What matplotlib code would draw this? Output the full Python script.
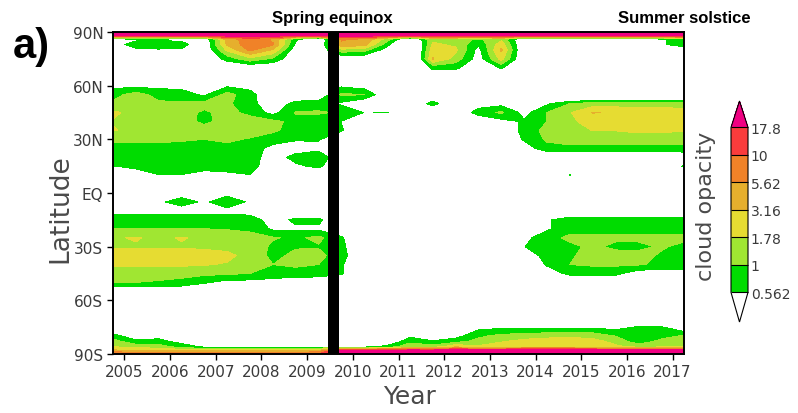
import numpy as np
import matplotlib
matplotlib.use("Agg")
import matplotlib.pyplot as plt

plt.rcParams['font.family'] = ['DejaVu Sans']

# время (середина полугодий) и широты сетки
years = [2004.75, 2005.25, 2005.75, 2006.25, 2006.75, 2007.25, 2007.75,
         2008.25, 2008.75, 2009.25, 2009.75, 2010.25, 2010.75, 2011.25,
         2011.75, 2012.25, 2012.75, 2013.25, 2013.75, 2014.25, 2014.75,
         2015.25, 2015.75, 2016.25, 2016.75, 2017.25]
lats = [90, 88, 86, 83, 80, 75, 70, 65, 60, 55, 50, 45, 40, 35, 30, 25, 20,
        15, 10, 5, 0, -5, -10, -15, -20, -25, -30, -35, -40, -45, -50, -55,
        -60, -65, -70, -75, -80, -83, -86, -88, -90]

# cloud opacity, одна строка на широту (сверху вниз)
opacity = [
    [30, 30, 30, 30, 30, 30, 30, 30, 30, 30, 30, 30, 30, 30, 30, 30, 30, 30, 30, 30, 30, 30, 30, 30, 30, 30],
    [22, 22, 22, 22, 22, 22, 22, 22, 22, 22, 22, 22, 22, 22, 22, 22, 22, 22, 22, 22, 22, 22, 22, 22, 22, 22],
    [0.45, 0.5, 0.5, 0.45, 0.3, 4, 8, 5, 0.65, 0.2, 6, 5, 1.3, 0.2, 1.5, 1.3, 0.9, 1.5, 0.25, 0.3, 0.3, 0.3, 0.3, 0.3, 0.5, 0.85],
    [0.45, 0.7, 0.85, 0.75, 0.3, 3.5, 8, 6, 0.5, 0.25, 5, 4, 0.7, 0.1, 2.0, 1.6, 0.6, 2.5, 0.25, 0.3, 0.3, 0.3, 0.3, 0.3, 0.5, 0.85],
    [0.3, 0.5, 0.52, 0.5, 0.3, 2.0, 6.5, 3.0, 0.35, 0.3, 1.5, 1.3, 0.4, 0.1, 2.5, 2.0, 0.45, 3.5, 0.25, 0.3, 0.3, 0.3, 0.3, 0.3, 0.3, 0.3],
    [0.3, 0.3, 0.3, 0.3, 0.3, 0.7, 1.5, 0.9, 0.3, 0.3, 0.3, 0.3, 0.3, 0.1, 3.3, 1.4, 0.4, 2.2, 0.25, 0.3, 0.3, 0.3, 0.3, 0.3, 0.3, 0.3],
    [0.3, 0.3, 0.3, 0.3, 0.3, 0.3, 0.3, 0.3, 0.3, 0.3, 0.3, 0.3, 0.3, 0.15, 0.66, 0.65, 0.3, 0.6, 0.3, 0.3, 0.3, 0.3, 0.3, 0.3, 0.3, 0.3],
    [0.3, 0.3, 0.3, 0.3, 0.3, 0.3, 0.3, 0.3, 0.3, 0.3, 0.3, 0.3, 0.3, 0.3, 0.3, 0.3, 0.3, 0.3, 0.3, 0.3, 0.3, 0.3, 0.3, 0.3, 0.3, 0.3],
    [0.47, 0.47, 0.47, 0.45, 0.3, 0.5, 0.45, 0.3, 0.3, 0.3, 0.5, 0.4, 0.3, 0.3, 0.3, 0.3, 0.3, 0.3, 0.3, 0.3, 0.3, 0.3, 0.3, 0.3, 0.3, 0.3],
    [0.8, 1.3, 0.8, 0.75, 0.5, 1.25, 0.7, 0.3, 0.3, 0.3, 1.1, 1.0, 0.3, 0.3, 0.3, 0.3, 0.3, 0.3, 0.3, 0.2, 0.1, 0.1, 0.1, 0.1, 0.1, 0.1],
    [1.12, 1.12, 1.1, 1.1, 1.2, 1.1, 0.7, 0.35, 0.7, 0.8, 0.5, 0.3, 0.3, 0.3, 0.7, 0.3, 0.4, 0.45, 0.3, 0.5, 1.0, 1.3, 1.3, 1.3, 1.3, 1.3],
    [1.95, 1.5, 1.45, 1.2, 0.92, 1.2, 0.85, 0.45, 1.05, 1.05, 0.95, 0.55, 0.58, 0.3, 0.3, 0.3, 0.75, 1.1, 0.45, 1.0, 1.7, 3.25, 3.0, 2.6, 2.5, 2.4],
    [1.72, 1.5, 1.5, 1.35, 0.85, 1.3, 1.3, 1.15, 0.85, 0.8, 0.55, 0.3, 0.3, 0.3, 0.3, 0.3, 0.3, 0.45, 0.6, 1.0, 1.6, 2.2, 2.3, 2.4, 2.3, 2.2],
    [1.85, 1.55, 1.5, 1.4, 1.35, 1.3, 1.3, 1.1, 0.8, 0.8, 0.6, 0.3, 0.3, 0.3, 0.3, 0.3, 0.3, 0.3, 0.7, 1.2, 1.5, 1.8, 1.8, 1.9, 1.9, 1.85],
    [1.1, 1.1, 1.1, 1.05, 1.0, 1.1, 0.95, 0.75, 0.6, 0.6, 0.3, 0.3, 0.3, 0.3, 0.3, 0.3, 0.3, 0.3, 0.6, 1.1, 1.3, 1.4, 1.4, 1.5, 1.4, 1.4],
    [0.85, 0.85, 0.85, 0.85, 0.85, 0.85, 0.8, 0.45, 0.4, 0.45, 0.3, 0.3, 0.3, 0.3, 0.3, 0.3, 0.3, 0.3, 0.4, 0.8, 0.85, 0.8, 0.75, 0.75, 0.75, 0.8],
    [0.85, 0.8, 0.85, 0.85, 0.8, 0.8, 0.75, 0.4, 0.7, 0.9, 0.3, 0.3, 0.3, 0.3, 0.3, 0.3, 0.3, 0.3, 0.3, 0.3, 0.3, 0.3, 0.3, 0.3, 0.3, 0.35],
    [0.55, 0.65, 0.8, 0.8, 0.7, 0.7, 0.75, 0.35, 0.5, 0.65, 0.3, 0.3, 0.3, 0.3, 0.3, 0.3, 0.3, 0.3, 0.3, 0.3, 0.3, 0.3, 0.3, 0.3, 0.3, 0.6],
    [0.3, 0.4, 0.55, 0.55, 0.45, 0.5, 0.55, 0.3, 0.3, 0.3, 0.3, 0.3, 0.3, 0.3, 0.3, 0.3, 0.3, 0.3, 0.3, 0.3, 0.57, 0.3, 0.3, 0.3, 0.3, 0.3],
    [0.3, 0.3, 0.3, 0.3, 0.3, 0.3, 0.3, 0.3, 0.3, 0.3, 0.3, 0.3, 0.3, 0.3, 0.3, 0.3, 0.3, 0.3, 0.3, 0.3, 0.3, 0.3, 0.3, 0.3, 0.3, 0.3],
    [0.3, 0.3, 0.3, 0.4, 0.3, 0.45, 0.3, 0.3, 0.3, 0.3, 0.3, 0.3, 0.3, 0.3, 0.3, 0.3, 0.3, 0.3, 0.3, 0.3, 0.3, 0.3, 0.3, 0.3, 0.3, 0.3],
    [0.3, 0.3, 0.5, 0.75, 0.5, 0.85, 0.5, 0.3, 0.3, 0.3, 0.3, 0.3, 0.3, 0.3, 0.3, 0.3, 0.3, 0.3, 0.3, 0.3, 0.3, 0.3, 0.3, 0.3, 0.3, 0.3],
    [0.4, 0.4, 0.4, 0.4, 0.4, 0.45, 0.4, 0.3, 0.3, 0.3, 0.3, 0.3, 0.3, 0.3, 0.3, 0.3, 0.3, 0.3, 0.2, 0.2, 0.2, 0.2, 0.2, 0.2, 0.2, 0.2],
    [0.85, 0.85, 0.85, 0.85, 0.85, 0.85, 0.8, 0.4, 0.65, 0.65, 0.3, 0.3, 0.3, 0.3, 0.3, 0.3, 0.3, 0.3, 0.3, 0.5, 0.85, 0.85, 0.85, 0.85, 0.85, 0.85],
    [1.0, 1.0, 1.0, 1.0, 1.0, 0.95, 0.9, 0.5, 0.5, 0.5, 0.35, 0.3, 0.3, 0.3, 0.3, 0.3, 0.3, 0.3, 0.35, 0.5, 0.85, 0.85, 0.85, 0.85, 0.85, 0.85],
    [1.7, 1.85, 1.6, 1.85, 1.6, 1.5, 1.2, 1.05, 0.9, 1.15, 0.6, 0.3, 0.3, 0.3, 0.3, 0.3, 0.3, 0.3, 0.45, 0.85, 1.1, 1.1, 1.1, 1.1, 1.1, 1.1],
    [1.7, 1.7, 1.7, 1.7, 1.65, 1.55, 1.4, 0.9, 0.95, 0.95, 0.65, 0.3, 0.3, 0.3, 0.3, 0.3, 0.3, 0.3, 0.55, 0.85, 0.9, 1.1, 0.9, 0.9, 1.05, 0.9],
    [2.3, 2.3, 2.3, 2.2, 2.1, 2.0, 1.5, 0.85, 1.15, 1.2, 0.7, 0.3, 0.3, 0.3, 0.3, 0.3, 0.3, 0.3, 0.3, 0.8, 0.95, 1.15, 1.2, 1.15, 0.95, 0.85],
    [2.0, 2.0, 2.0, 1.95, 1.85, 1.7, 1.3, 1.0, 1.1, 1.0, 0.6, 0.3, 0.3, 0.3, 0.3, 0.3, 0.3, 0.3, 0.3, 0.6, 1.0, 1.1, 1.1, 1.05, 0.9, 0.9],
    [1.2, 1.2, 1.2, 1.2, 1.15, 1.1, 1.0, 0.85, 0.8, 0.75, 0.6, 0.3, 0.3, 0.3, 0.3, 0.3, 0.3, 0.3, 0.3, 0.4, 0.65, 0.65, 0.65, 0.4, 0.35, 0.35],
    [1.0, 1.0, 0.95, 0.85, 0.6, 0.45, 0.45, 0.4, 0.35, 0.35, 0.3, 0.3, 0.3, 0.3, 0.3, 0.3, 0.3, 0.3, 0.3, 0.3, 0.3, 0.3, 0.3, 0.3, 0.3, 0.3],
    [0.3, 0.3, 0.3, 0.3, 0.3, 0.3, 0.3, 0.3, 0.3, 0.3, 0.3, 0.3, 0.3, 0.3, 0.3, 0.3, 0.3, 0.3, 0.3, 0.3, 0.3, 0.3, 0.3, 0.3, 0.3, 0.3],
    [0.3, 0.3, 0.3, 0.3, 0.3, 0.3, 0.3, 0.3, 0.3, 0.3, 0.3, 0.3, 0.3, 0.3, 0.3, 0.3, 0.3, 0.3, 0.3, 0.3, 0.3, 0.3, 0.3, 0.3, 0.3, 0.3],
    [0.3, 0.3, 0.3, 0.3, 0.3, 0.3, 0.3, 0.3, 0.3, 0.3, 0.3, 0.3, 0.3, 0.3, 0.3, 0.3, 0.3, 0.3, 0.3, 0.3, 0.3, 0.3, 0.3, 0.3, 0.3, 0.3],
    [0.3, 0.3, 0.3, 0.3, 0.3, 0.3, 0.3, 0.3, 0.3, 0.3, 0.3, 0.3, 0.3, 0.3, 0.3, 0.3, 0.3, 0.3, 0.3, 0.3, 0.3, 0.3, 0.3, 0.3, 0.3, 0.3],
    [0.3, 0.3, 0.3, 0.3, 0.3, 0.3, 0.3, 0.3, 0.3, 0.3, 0.3, 0.3, 0.3, 0.3, 0.3, 0.3, 0.45, 0.5, 0.5, 0.5, 0.5, 0.5, 0.45, 0.6, 0.6, 0.3],
    [0.7, 0.4, 0.45, 0.3, 0.3, 0.3, 0.3, 0.3, 0.3, 0.3, 0.3, 0.3, 0.3, 0.5, 0.35, 0.45, 0.9, 1.2, 1.3, 1.5, 1.6, 1.5, 1.0, 0.55, 0.8, 1.1],
    [1.3, 0.65, 0.7, 0.45, 0.3, 0.3, 0.3, 0.3, 0.3, 0.3, 0.3, 0.3, 0.3, 0.85, 0.6, 0.8, 1.2, 1.7, 2.2, 2.4, 2.4, 2.2, 1.5, 0.7, 1.2, 1.3],
    [1.8, 1.5, 1.3, 0.8, 0.5, 0.5, 0.5, 0.5, 0.5, 0.5, 0.45, 0.45, 0.7, 1.5, 1.3, 3.0, 2.0, 2.4, 2.8, 2.8, 2.8, 2.6, 2.0, 1.5, 1.6, 1.6],
    [3.5, 3.0, 3.0, 2.5, 2.5, 2.5, 2.5, 2.5, 3.0, 3.5, 25, 25, 25, 25, 25, 25, 25, 25, 25, 25, 25, 25, 25, 25, 25, 25],
    [11, 11, 11, 11, 11, 11, 11, 11, 11, 11, 30, 30, 30, 30, 30, 30, 30, 30, 30, 30, 30, 30, 30, 30, 30, 30],
]

levels = [0.562, 1, 1.78, 3.16, 5.62, 10, 17.8]
level_labels = ["0.562", "1", "1.78", "3.16", "5.62", "10", "17.8"]
# белый снизу, маджента сверху (палитра как в GrADS)
colors = ["white", "#00dc00", "#a0e632", "#e6dc32", "#e6af2d",
          "#f08228", "#fa3c3c", "#f00082"]

year_ticks = [2005, 2006, 2007, 2008, 2009, 2010, 2011, 2012, 2013,
              2014, 2015, 2016, 2017]
lat_ticks = [-90, -60, -30, 0, 30, 60, 90]
lat_labels = ["90S", "60S", "30S", "EQ", "30N", "60N", "90N"]

equinox = (2009.46, 2009.70)   # чёрная полоса

W, H = 798, 414
fig = plt.figure(figsize=(W / 100, H / 100), dpi=100)
ax = fig.add_axes([113 / W, 1 - 355 / H, 571 / W, 322 / H])

z = np.log10(np.array(opacity))
cs = ax.contourf(years, lats, z, levels=np.log10(levels), colors=colors,
                 extend="both")
ax.axvspan(equinox[0], equinox[1], color="black", zorder=3, lw=0)

ax.set_xlim(2004.75, 2017.25)
ax.set_ylim(-90, 90)
ax.set_xticks(year_ticks)
ax.set_xticklabels([str(y) for y in year_ticks])
ax.set_yticks(lat_ticks)
ax.set_yticklabels(lat_labels)
ax.tick_params(direction="out", length=4, width=1, labelsize=11,
               labelcolor="#3a3a3a", pad=3)
for s in ax.spines.values():
    s.set_linewidth(1.4)
    s.set_zorder(4)

cax = fig.add_axes([731 / W, 1 - 323 / H, 17 / W, 221 / H])
cb = fig.colorbar(cs, cax=cax, extendfrac=(0.18, 0.16), drawedges=True)
cb.set_ticks(np.log10(levels))
cb.set_ticklabels(level_labels)
cb.ax.tick_params(length=0, labelsize=10, pad=2, labelcolor="#3a3a3a")
cb.outline.set_linewidth(0.8)
cb.dividers.set_linewidth(0.8)

fig.text(706 / W, 1 - 206 / H, "cloud opacity", rotation=90, fontsize=16,
         ha="center", va="center", color="#4a4a4a")
fig.text(60 / W, 1 - 209 / H, "Latitude", rotation=90, fontsize=19,
         ha="center", va="center", color="#4a4a4a")
fig.text(410 / W, 1 - 397 / H, "Year", fontsize=18, ha="center",
         va="center", color="#4a4a4a")

fig.text(31 / W, 1 - 47 / H, "a)", fontsize=30, fontweight="bold",
         family="Liberation Sans", ha="center", va="center")
fig.text(332 / W, 1 - 23 / H, "Spring equinox", fontsize=12,
         fontweight="bold", family="Liberation Sans", ha="center",
         va="baseline")
fig.text(684 / W, 1 - 23 / H, "Summer solstice", fontsize=12,
         fontweight="bold", family="Liberation Sans", ha="center",
         va="baseline")

fig.savefig("out.png", dpi=100)
plt.close(fig)
